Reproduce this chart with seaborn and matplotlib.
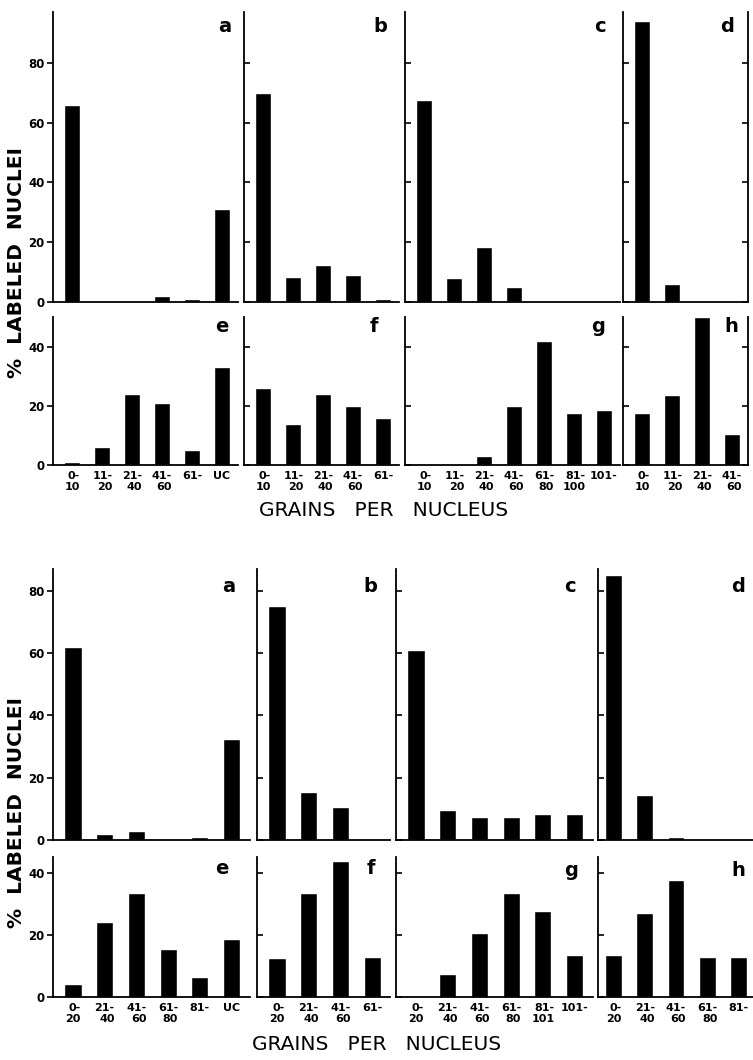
import matplotlib
matplotlib.use("Agg")
import matplotlib.pyplot as plt
import seaborn as sns

# upper figure: grain-count classes
top_cats_ae = ["0-\n10", "11-\n20", "21-\n40", "41-\n60", "61-", "UC"]
top_cats_bf = ["0-\n10", "11-\n20", "21-\n40", "41-\n60", "61-"]
top_cats_cg = ["0-\n10", "11-\n20", "21-\n40", "41-\n60", "61-\n80", "81-\n100", "101-"]
top_cats_dh = ["0-\n10", "11-\n20", "21-\n40", "41-\n60"]

# % labeled nuclei, upper figure
top_a = [66, 0, 0, 2, 1, 31]
top_b = [70, 8.5, 12.5, 9, 1]
top_c = [67.5, 8, 18.5, 5, 0, 0, 0]
top_d = [94, 6, 0, 0]
top_e = [1, 6, 24, 21, 5, 33]
top_f = [26, 14, 24, 20, 16]
top_g = [0, 0, 3, 20, 42, 17.5, 18.5]
top_h = [17.5, 23.5, 50, 10.5]

# lower figure: grain-count classes
bot_cats_ae = ["0-\n20", "21-\n40", "41-\n60", "61-\n80", "81-", "UC"]
bot_cats_bf = ["0-\n20", "21-\n40", "41-\n60", "61-"]
bot_cats_cg = ["0-\n20", "21-\n40", "41-\n60", "61-\n80", "81-\n101", "101-"]
bot_cats_dh = ["0-\n20", "21-\n40", "41-\n60", "61-\n80", "81-"]

# % labeled nuclei, lower figure
bot_a = [62, 2, 3, 0.4, 1, 32.5]
bot_b = [75, 15.5, 10.5, 0]
bot_c = [61, 9.5, 7.5, 7.5, 8.5, 8.5]
bot_d = [85, 14.5, 1, 0, 0]
bot_e = [4.3, 24, 33.3, 15.5, 6.4, 18.5]
bot_f = [12.6, 33.5, 43.7, 12.8]
bot_g = [0, 7.5, 20.5, 33.5, 27.5, 13.5]
bot_h = [13.5, 27, 37.5, 13, 13]

sns.set_style("ticks", {"axes.edgecolor": "black", "text.color": "black",
                        "xtick.color": "black", "ytick.color": "black"})
plt.rcParams["font.family"] = ["DejaVu Sans"]

W, H = 753, 1060
fig = plt.figure(figsize=(W / 100, H / 100), dpi=100)


def px_axes(x0, y0, w, h):
    # pixel box (top-left origin) -> figure fraction
    return fig.add_axes([x0 / W, 1 - (y0 + h) / H, w / W, h / H])


def panel(x0, unit, y0, y1, cats, vals, ymax, yticks, first, bottom,
          right_spine=False, lm=0.65):
    n = len(cats)
    ax = px_axes(x0, y0, (n + 0.2) * unit, y1 - y0)
    sns.barplot(x=cats, y=vals, order=cats, color="black", saturation=1,
                width=0.54, errorbar=None, ax=ax)
    ax.set_xlim(-lm, n - 1 + (1.2 - lm))
    ax.set_ylim(0, ymax)
    ax.set_yticks(yticks)
    ax.set_xlabel("")
    ax.set_ylabel("")
    sns.despine(ax=ax, right=not right_spine)
    for s in ax.spines.values():
        s.set_linewidth(1.3)
        s.set_color("black")
    ax.set_xticks(range(n))
    ax.set_xticklabels(cats, fontweight="bold", fontsize=8, multialignment="right",
                       color="black")
    ax.tick_params(axis="x", length=0, pad=4)
    ax.tick_params(axis="y", direction="out" if first else "in", length=4,
                   width=1.2, labelsize=8.5, pad=2, labelleft=first,
                   right=right_spine, colors="black")
    for t in ax.get_yticklabels():
        t.set_fontweight("bold")
    if not bottom:
        ax.tick_params(axis="x", labelbottom=False)
    return ax


# upper figure
top_x = [53, 244, 405, 623]
u_top = 29.87
top_rows = [
    (12, 302, 97, [0, 20, 40, 60, 80],
     [(top_cats_ae, top_a), (top_cats_bf, top_b), (top_cats_cg, top_c), (top_cats_dh, top_d)]),
    (317, 465, 50, [0, 20, 40],
     [(top_cats_ae, top_e), (top_cats_bf, top_f), (top_cats_cg, top_g), (top_cats_dh, top_h)]),
]
for r, (y0, y1, ymax, yt, pans) in enumerate(top_rows):
    for i, (cats, vals) in enumerate(pans):
        panel(top_x[i], u_top, y0, y1, cats, vals, ymax, yt, i == 0, r == 1,
              right_spine=(i == 3))

# lower figure
bot_x = [53, 257, 396, 598]
u_bot = 31.7
bot_rows = [
    (569, 840, 87, [0, 20, 40, 60, 80],
     [(bot_cats_ae, bot_a), (bot_cats_bf, bot_b), (bot_cats_cg, bot_c), (bot_cats_dh, bot_d)]),
    (857, 997, 45, [0, 20, 40],
     [(bot_cats_ae, bot_e), (bot_cats_bf, bot_f), (bot_cats_cg, bot_g), (bot_cats_dh, bot_h)]),
]
for r, (y0, y1, ymax, yt, pans) in enumerate(bot_rows):
    for i, (cats, vals) in enumerate(pans):
        panel(bot_x[i], u_bot if i < 3 else 31.2, y0, y1, cats, vals, ymax, yt,
              i == 0, r == 1, lm=0.63 if i < 3 else 0.5)

# panel letters
letters_top = [("a", 225, 27), ("b", 380, 27), ("c", 600, 27), ("d", 727, 27),
               ("e", 222, 327), ("f", 374, 327), ("g", 598, 327), ("h", 731, 327)]
letters_bot = [("a", 229, 586), ("b", 370, 586), ("c", 570, 586), ("d", 738, 586),
               ("e", 222, 869), ("f", 371, 869), ("g", 571, 871), ("h", 738, 871)]
for lab, x, y in letters_top + letters_bot:
    fig.text(x / W, 1 - y / H, lab, ha="center", va="center",
             fontsize=14, fontweight="bold", color="black")

# axis titles
for yc in (262, 813):
    fig.text(17 / W, 1 - yc / H, "%  LABELED  NUCLEI", rotation=90,
             ha="center", va="center", fontsize=14.5, fontweight="bold",
             color="black")
for xc, yc in ((384, 510), (377, 1045)):
    fig.text(xc / W, 1 - yc / H, "GRAINS   PER   NUCLEUS",
             ha="center", va="center", fontsize=14.5, color="black")

fig.savefig("out.png", dpi=100)
